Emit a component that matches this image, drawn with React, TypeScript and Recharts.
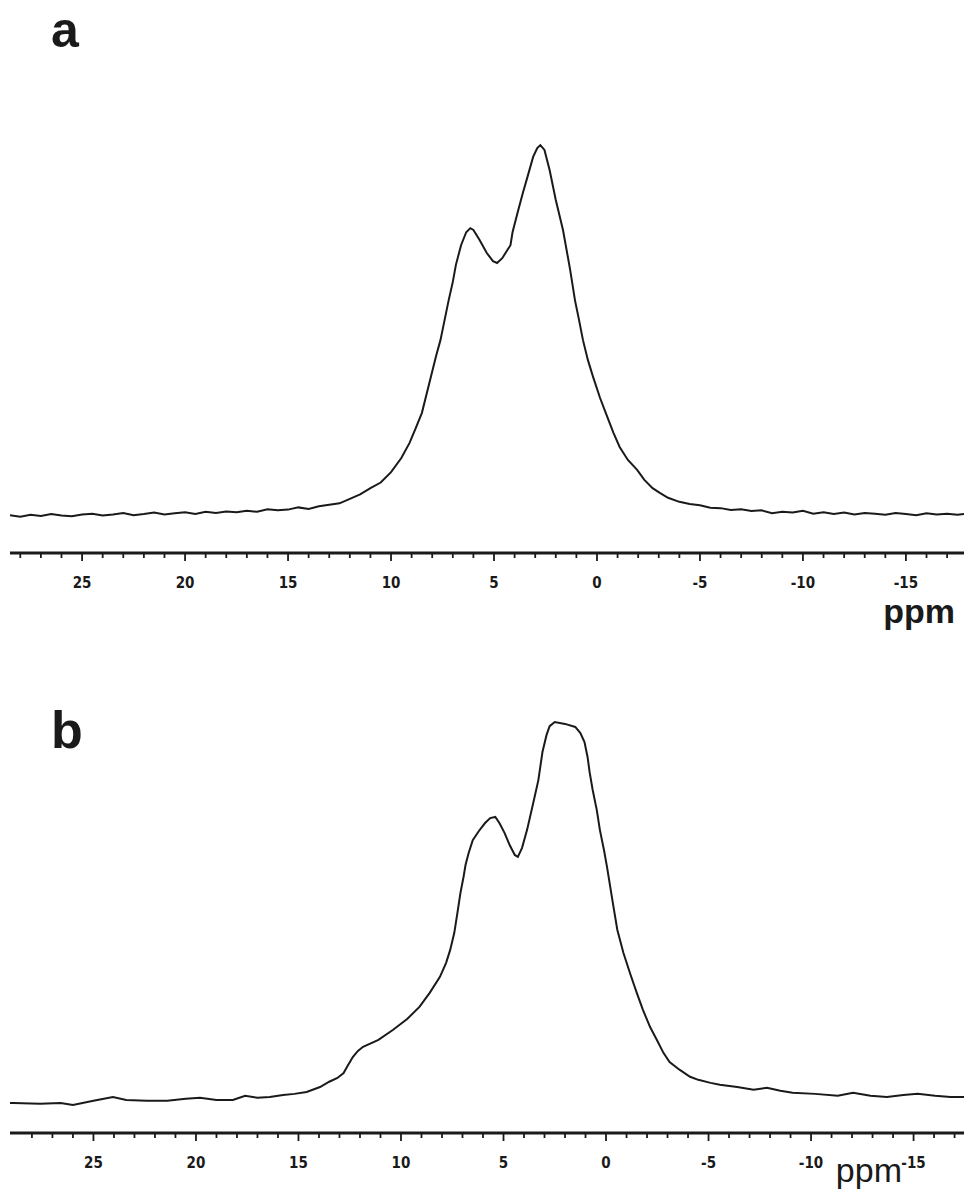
import { LineChart, Line, XAxis, YAxis } from "recharts";

// spectrum a: chemical shift (ppm) and relative intensity
const ppmA = [
  28.5, 28.0, 27.5, 27.0, 26.5, 26.0, 25.5, 25.0, 24.5, 24.0, 23.5, 23.0, 22.5, 22.0, 21.5, 21.0, 20.5, 20.0, 19.5,
  19.0, 18.5, 18.0, 17.5, 17.0, 16.5, 16.0, 15.5, 15.0, 14.5, 14.0, 13.5, 13.0, 12.5, 12.0, 11.5, 11.0, 10.5, 10.0,
  9.5, 9.1, 8.8, 8.5, 8.1, 7.8, 7.6, 7.4, 7.2, 7.0, 6.85, 6.6, 6.35, 6.15, 6.0, 5.7, 5.35, 5.05, 4.85, 4.6, 4.35,
  4.2, 4.1, 3.85, 3.6, 3.35, 3.1, 2.9, 2.75, 2.55, 2.3, 2.0, 1.65, 1.3, 1.07, 0.87, 0.68, 0.44, 0.19, -0.15, -0.5,
  -0.8, -1.1, -1.5, -1.95, -2.3, -2.7, -3.05, -3.45, -4.0, -4.5, -5.0, -5.5, -6.0, -6.5, -7.0, -7.5, -8.0, -8.5,
  -9.0, -9.5, -10.0, -10.5, -11.0, -11.5, -12.0, -12.5, -13.0, -13.5, -14.0, -14.5, -15.0, -15.5, -16.0, -16.5,
  -17.0, -17.5, -17.82,
];
const intA = [
  0.2, -0.2, 0.3, 0.0, 0.5, 0.1, -0.1, 0.4, 0.6, 0.1, 0.4, 0.8, 0.2, 0.5, 0.9, 0.4, 0.7, 1.0, 0.5, 1.1, 0.8, 1.2,
  1.0, 1.4, 1.1, 1.8, 1.5, 1.7, 2.3, 1.9, 2.6, 3.0, 3.4, 4.6, 5.8, 7.5, 9.0, 11.8, 15.6, 19.7, 23.7, 27.8, 36.7,
  43.4, 47.4, 52.8, 58.2, 63.1, 67.7, 73.0, 76.5, 77.6, 77.1, 74.4, 70.9, 68.7, 68.2, 69.5, 71.7, 73.0, 76.5, 81.9,
  87.1, 91.9, 96.8, 99.2, 100, 98.7, 93.3, 85.2, 77.1, 66.3, 58.2, 52.8, 47.4, 42.0, 37.5, 31.8, 26.7, 22.4, 18.6,
  15.1, 12.4, 9.7, 7.5, 6.2, 4.9, 3.8, 3.2, 2.9, 2.2, 2.1, 1.6, 1.8, 1.3, 1.5, 0.7, 1.1, 0.9, 1.4, 0.6, 1.0, 0.5,
  0.9, 0.4, 0.8, 0.6, 0.3, 0.8, 0.5, 0.2, 0.7, 0.4, 0.6, 0.3, 0.5,
];

// spectrum b
const ppmB = [
  29.07, 28.9, 27.6, 26.6, 26.0, 25.0, 24.05, 23.4, 22.4, 21.4, 20.5, 19.8, 19.0, 18.2, 17.6, 17.0, 16.4, 15.75,
  15.2, 14.6, 13.95, 13.5, 13.1, 12.8, 12.6, 12.35, 12.1, 11.85, 11.1, 10.4, 9.7, 9.1, 8.6, 8.1, 7.8, 7.6, 7.4,
  7.25, 7.1, 6.95, 6.85, 6.7, 6.5, 6.2, 5.9, 5.65, 5.4, 5.2, 4.95, 4.7, 4.45, 4.3, 4.1, 3.85, 3.55, 3.3, 3.1, 2.9,
  2.75, 2.5, 2.0, 1.5, 1.25, 1.05, 0.9, 0.8, 0.65, 0.45, 0.3, 0.1, -0.05, -0.2, -0.35, -0.55, -0.85, -1.2, -1.5,
  -1.8, -2.15, -2.5, -2.8, -3.1, -3.6, -4.1, -4.5, -5.1, -5.55, -6.4, -7.2, -7.85, -8.5, -9.1, -10.2, -11.3,
  -12.05, -12.9, -13.7, -14.5, -15.2, -16.05, -16.8, -17.46,
];
const intB = [
  -0.3, -0.3, -0.5, -0.3, -0.8, 0.3, 1.3, 0.5, 0.3, 0.3, 0.8, 1.1, 0.5, 0.5, 1.6, 1.1, 1.3, 1.8, 2.1, 2.6, 3.9, 5.3,
  6.3, 7.6, 9.5, 11.8, 13.4, 14.5, 16.3, 18.9, 21.8, 25.0, 28.7, 32.9, 36.6, 40.0, 44.5, 49.7, 55.0, 59.2, 62.4,
  65.5, 68.9, 71.3, 73.4, 74.7, 75.0, 73.4, 70.8, 67.6, 65.0, 64.5, 66.8, 71.6, 78.7, 84.7, 92.1, 96.6, 98.9, 100,
  99.5, 98.7, 97.1, 94.7, 90.8, 86.8, 82.1, 76.8, 71.6, 66.3, 61.8, 56.8, 51.8, 45.3, 39.2, 33.4, 28.7, 24.2, 19.7,
  16.1, 12.9, 10.5, 8.4, 6.6, 5.8, 5.0, 4.5, 3.9, 3.2, 3.7, 2.9, 2.4, 2.1, 1.6, 2.4, 1.6, 1.3, 1.8, 2.1, 1.6, 1.3,
  1.3,
];

const labelTicks = [25, 20, 15, 10, 5, 0, -5, -10, -15];
const allTicks = [
  28, 27, 26, 25, 24, 23, 22, 21, 20, 19, 18, 17, 16, 15, 14, 13, 12, 11, 10, 9, 8, 7, 6, 5, 4, 3, 2, 1, 0, -1, -2,
  -3, -4, -5, -6, -7, -8, -9, -10, -11, -12, -13, -14, -15, -16, -17,
];

const dataA = ppmA.map((p, i) => ({ ppm: p, v: intA[i] }));
const dataB = ppmB.map((p, i) => ({ ppm: p, v: intB[i] }));

const ink = "#1a1a1a";

function PpmTick(props: any) {
  const { x, y, payload } = props;
  const major = labelTicks.includes(payload.value);
  return (
    <g>
      <line x1={x} x2={x} y1={y} y2={y + (major ? 8 : 5)} stroke={ink} strokeWidth={1.8} />
      {major && (
        <text
          x={x}
          y={y + 35}
          textAnchor="middle"
          fontFamily="'Liberation Sans Narrow', 'DejaVu Sans Condensed', sans-serif"
          fontWeight="bold"
          fontSize={15}
          fill={ink}
        >
          {payload.value}
        </text>
      )}
    </g>
  );
}

function Spectrum(props: {
  data: { ppm: number; v: number }[];
  xDomain: [number, number];
  yDomain: [number, number];
  height: number;
  marginTop: number;
  marginBottom: number;
  top: number;
}) {
  const { data, xDomain, yDomain, height, marginTop, marginBottom, top } = props;
  return (
    <div style={{ position: "absolute", left: 0, top }}>
      <LineChart
        width={964}
        height={height}
        data={data}
        margin={{ top: marginTop, right: 0, left: 10, bottom: marginBottom }}
      >
        <XAxis
          dataKey="ppm"
          type="number"
          domain={xDomain}
          reversed
          allowDataOverflow
          ticks={allTicks}
          interval={0}
          height={30}
          tickSize={0}
          tickMargin={0}
          tickLine={false}
          axisLine={{ stroke: ink, strokeWidth: 3 }}
          tick={<PpmTick />}
        />
        <YAxis hide type="number" domain={yDomain} allowDataOverflow />
        <Line
          type="linear"
          dataKey="v"
          stroke={ink}
          strokeWidth={2}
          dot={false}
          isAnimationActive={false}
        />
      </LineChart>
    </div>
  );
}

export default function App() {
  return (
    <div
      style={{
        position: "absolute",
        left: 0,
        top: 0,
        width: 964,
        height: 1189,
        background: "#fff",
        overflow: "hidden",
      }}
    >
      <Spectrum
        data={dataA}
        xDomain={[-17.82, 28.5]}
        yDomain={[-10, 110]}
        height={640}
        marginTop={108}
        marginBottom={57}
        top={0}
      />
      <Spectrum
        data={dataB}
        xDomain={[-17.46, 29.07]}
        yDomain={[-8.2, 105]}
        height={549}
        marginTop={63}
        marginBottom={26}
        top={640}
      />
      <svg
        width={964}
        height={1189}
        style={{ position: "absolute", left: 0, top: 0, pointerEvents: "none" }}
      >
        <text x={51} y={47} fontFamily="'Liberation Sans', Arial, sans-serif" fontWeight="bold" fontSize={50} fill={ink}>
          a
        </text>
        <text x={51} y={748} fontFamily="'Liberation Sans', Arial, sans-serif" fontWeight="bold" fontSize={52} fill={ink}>
          b
        </text>
        <text
          x={955}
          y={623}
          textAnchor="end"
          fontFamily="'Liberation Sans Narrow', 'Liberation Sans', sans-serif"
          fontWeight="bold"
          fontSize={34}
          fill={ink}
        >
          ppm
        </text>
        <text
          x={902}
          y={1182}
          textAnchor="end"
          fontFamily="'Liberation Sans Narrow', 'Liberation Sans', sans-serif"
          fontSize={34}
          fill={ink}
        >
          ppm
        </text>
      </svg>
    </div>
  );
}
